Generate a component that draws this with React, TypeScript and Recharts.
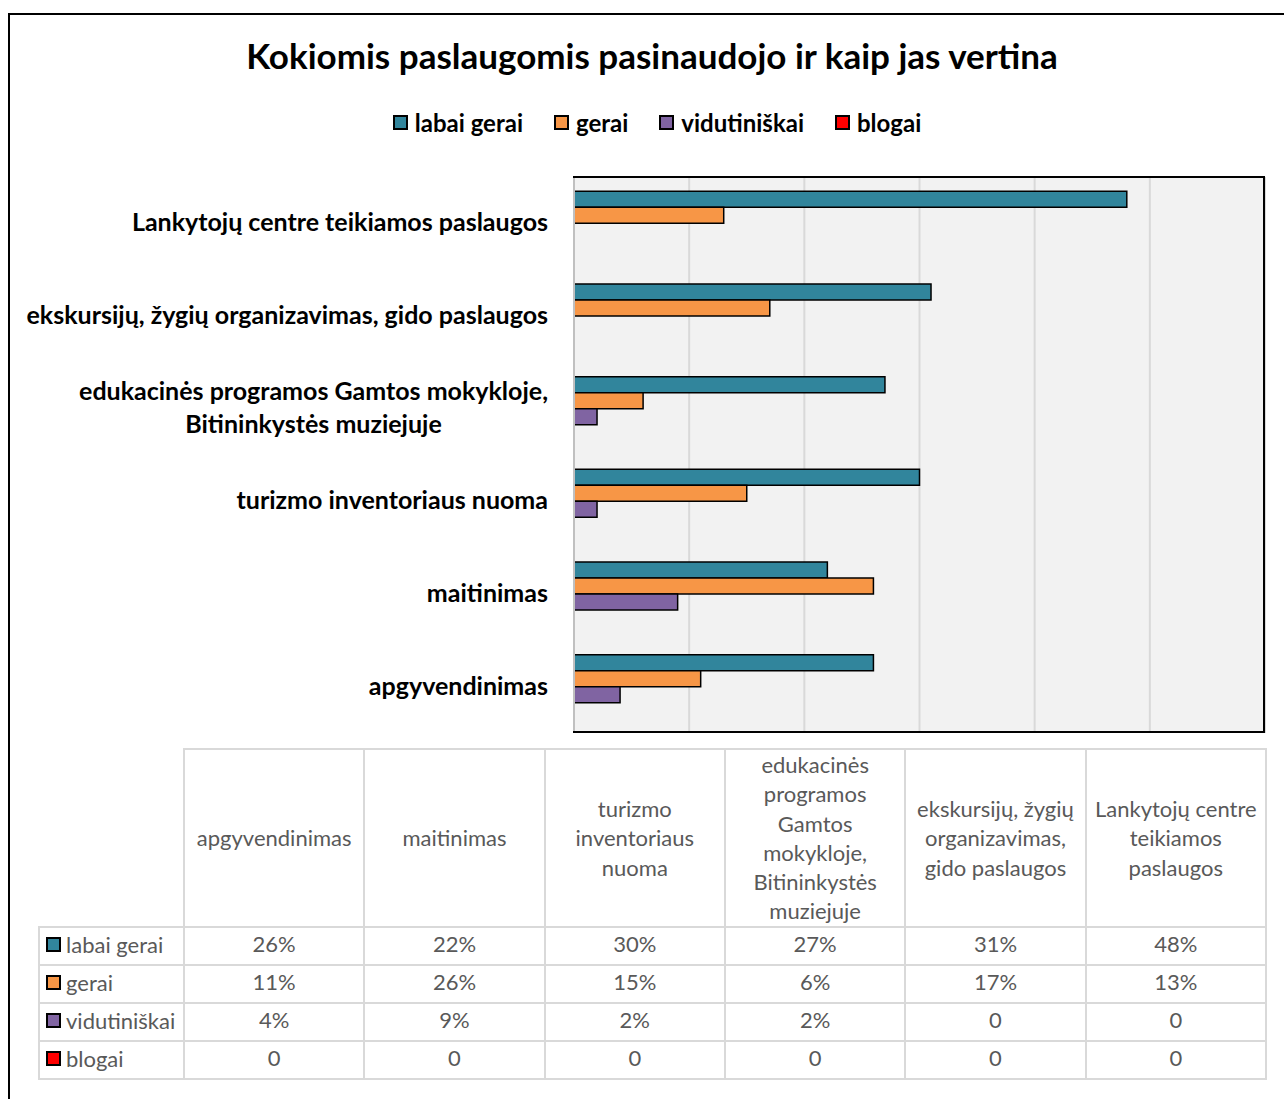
import { Bar, BarChart, CartesianGrid, XAxis, YAxis } from 'recharts'

const categories = [
  'apgyvendinimas',
  'maitinimas',
  'turizmo inventoriaus nuoma',
  'edukacinės programos Gamtos mokykloje, Bitininkystės muziejuje',
  'ekskursijų, žygių organizavimas, gido paslaugos',
  'Lankytojų centre teikiamos paslaugos',
]

// axis label line breaks (only the long one is split)
const axisLines: Record<string, string[]> = {
  'edukacinės programos Gamtos mokykloje, Bitininkystės muziejuje': [
    'edukacinės programos Gamtos mokykloje,',
    'Bitininkystės muziejuje',
  ],
}

// header wrapping as in the table
const headerLines = [
  ['apgyvendinimas'],
  ['maitinimas'],
  ['turizmo', 'inventoriaus', 'nuoma'],
  ['edukacinės', 'programos', 'Gamtos', 'mokykloje,', 'Bitininkystės', 'muziejuje'],
  ['ekskursijų, žygių', 'organizavimas,', 'gido paslaugos'],
  ['Lankytojų centre', 'teikiamos', 'paslaugos'],
]

const labaiGerai = [26, 22, 30, 27, 31, 48]
const gerai = [11, 26, 15, 6, 17, 13]
const vidutiniskai = [4, 9, 2, 2, 0, 0]
const blogai = [0, 0, 0, 0, 0, 0]

const xTicks = [0, 10, 20, 30, 40, 50, 60]

const series = [
  { key: 'labaiGerai', name: 'labai gerai', color: '#31859c', values: labaiGerai },
  { key: 'gerai', name: 'gerai', color: '#f79646', values: gerai },
  { key: 'vidutiniskai', name: 'vidutiniškai', color: '#8064a2', values: vidutiniskai },
  { key: 'blogai', name: 'blogai', color: '#ff0000', values: blogai },
]

const chartData = categories.map((name, i) => ({
  name,
  labaiGerai: labaiGerai[i],
  gerai: gerai[i],
  vidutiniskai: vidutiniskai[i],
  blogai: blogai[i],
}))

const FONT = 'Lato, "Open Sans", sans-serif'
const LABEL_SIZE = 25
const LABEL_FONT = `bold ${LABEL_SIZE}px ${FONT}`

let measureCtx: CanvasRenderingContext2D | null = null
function textWidth(s: string) {
  if (!measureCtx) measureCtx = document.createElement('canvas').getContext('2d')
  if (!measureCtx) return s.length * 12
  measureCtx.font = LABEL_FONT
  return measureCtx.measureText(s).width
}

function CategoryTick(props: any) {
  const { x, y, payload } = props
  const lines = axisLines[payload.value] || [payload.value]
  if (lines.length === 1) {
    return (
      <text x={x} y={y} dy={8} textAnchor='end' fontFamily={FONT} fontWeight='bold' fontSize={LABEL_SIZE} fill='#000'>
        {lines[0]}
      </text>
    )
  }
  const w = Math.max(...lines.map(textWidth))
  const cx = x - w / 2
  const lh = 33
  const start = y - ((lines.length - 1) * lh) / 2
  return (
    <g>
      {lines.map((l, i) => (
        <text key={i} x={cx} y={start + i * lh} dy={8} textAnchor='middle' fontFamily={FONT} fontWeight='bold' fontSize={LABEL_SIZE} fill='#000'>
          {l}
        </text>
      ))}
    </g>
  )
}

const keyBox = (color: string, size: number) => (
  <span
    style={{
      display: 'inline-block',
      width: size,
      height: size,
      background: color,
      border: '2px solid #000',
      boxSizing: 'border-box',
    }}
  />
)

const cellBorder = '2px solid #d9d9d9'

export default function App() {
  return (
    <div
      style={{
        position: 'fixed',
        top: 0,
        left: 0,
        width: 1284,
        height: 1099,
        overflow: 'hidden',
        background: '#fff',
        fontFamily: FONT,
      }}
    >
      <div
        style={{
          position: 'absolute',
          left: 8,
          top: 13,
          width: 1400,
          height: 1200,
          borderTop: '2px solid #000',
          borderLeft: '2px solid #000',
        }}
      />
      <div
        style={{
          position: 'absolute',
          left: 0,
          top: 34,
          width: 1304,
          textAlign: 'center',
          fontWeight: 'bold',
          fontSize: 35,
          color: '#000',
        }}
      >
        Kokiomis paslaugomis pasinaudojo ir kaip jas vertina
      </div>
      <div
        style={{
          position: 'absolute',
          left: 0,
          top: 108,
          width: 1314,
          display: 'flex',
          justifyContent: 'center',
          gap: 31,
          fontWeight: 'bold',
          fontSize: 24,
          color: '#000',
        }}
      >
        {series.map(s => (
          <span key={s.key} style={{ display: 'flex', alignItems: 'center', gap: 7 }}>
            {keyBox(s.color, 15)}
            {s.name}
          </span>
        ))}
      </div>

      <div style={{ position: 'absolute', left: 0, top: 160 }}>
        <BarChart
          width={1284}
          height={600}
          data={chartData}
          layout='vertical'
          margin={{ top: 17, right: 19, left: 14, bottom: 27 }}
          barCategoryGap='15.5%'
          barGap={0}
        >
          <CartesianGrid horizontal={false} stroke='#d9d9d9' strokeWidth={2} fill='#f2f2f2' />
          <XAxis type='number' domain={[0, 60]} ticks={xTicks} hide />
          <YAxis
            type='category'
            dataKey='name'
            reversed
            width={560}
            axisLine={{ stroke: '#c0c0c0', strokeWidth: 2 }}
            tickLine={false}
            tickSize={0}
            tickMargin={26}
            tick={<CategoryTick />}
            interval={0}
          />
          {series.map(s => (
            <Bar
              key={s.key}
              dataKey={s.key}
              name={s.name}
              fill={s.color}
              stroke='#000'
              strokeWidth={1.5}
              isAnimationActive={false}
            />
          ))}
        </BarChart>
      </div>
      <div
        style={{
          position: 'absolute',
          left: 573,
          top: 176,
          width: 692,
          height: 557,
          borderTop: '2px solid #000',
          borderRight: '2px solid #000',
          borderBottom: '2px solid #000',
          boxSizing: 'border-box',
          pointerEvents: 'none',
        }}
      />

      <table
        style={{
          position: 'absolute',
          left: 38,
          top: 748,
          width: 1227,
          borderCollapse: 'collapse',
          tableLayout: 'fixed',
          fontSize: 22,
          color: '#595959',
        }}
      >
        <colgroup>
          <col style={{ width: 145 }} />
          {categories.map(c => (
            <col key={c} style={{ width: 180.33 }} />
          ))}
        </colgroup>
        <tbody>
          <tr style={{ height: 174 }}>
            <td style={{ border: 'none', padding: 0 }} />
            {headerLines.map((lines, i) => (
              <td key={i} style={{ border: cellBorder, textAlign: 'center', verticalAlign: 'middle', lineHeight: '29.3px', padding: 0 }}>
                {lines.map((l, j) => (
                  <div key={j}>{l}</div>
                ))}
              </td>
            ))}
          </tr>
          {series.map(s => (
            <tr key={s.key} style={{ height: 38 }}>
              <td style={{ border: cellBorder, padding: '0 0 4px 6px', whiteSpace: 'nowrap', lineHeight: '22px' }}>
                <span style={{ display: 'inline-flex', alignItems: 'center', gap: 5, verticalAlign: 'middle' }}>
                  {keyBox(s.color, 15)}
                  {s.name}
                </span>
              </td>
              {s.values.map((v, i) => (
                <td key={i} style={{ border: cellBorder, textAlign: 'center', padding: '0 0 4px 0', lineHeight: '22px' }}>
                  {v === 0 ? '0' : `${v}%`}
                </td>
              ))}
            </tr>
          ))}
        </tbody>
      </table>
    </div>
  )
}
